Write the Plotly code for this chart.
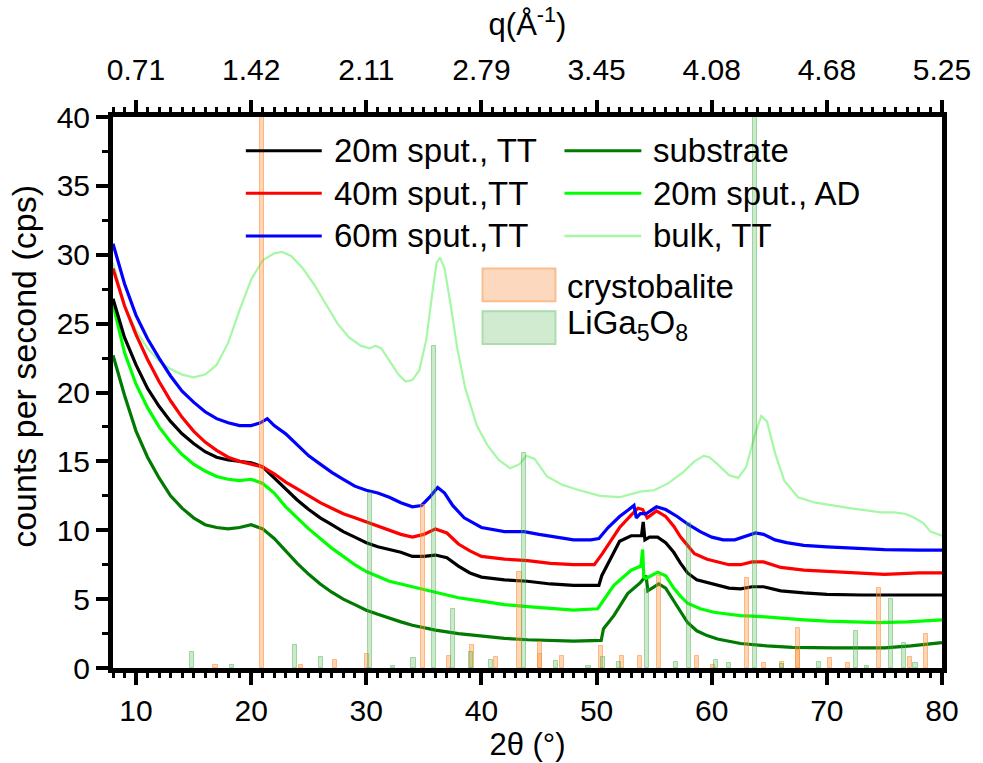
import plotly.graph_objects as go

# ---------------- measured diffraction curves (2theta in degrees, counts per second) ----------------
tt20_x = [8, 9, 10, 11, 12, 13, 14, 15, 16, 17, 18, 19, 20, 21, 22, 23, 24, 25, 26, 27, 28, 29, 30, 31, 32,
          33, 34, 35, 36, 37, 38, 39, 40, 42, 44, 46, 48, 50.2, 50.45, 51, 52, 53, 53.9, 54.05, 54.2, 54.6,
          55.3, 56, 56.7, 57.3, 57.9, 58.7, 59.6, 60.5, 61.5, 62.5, 63.5, 64.5, 66, 68, 70, 73, 76, 80]
tt20_y = [26.8, 24.0, 22.0, 20.3, 19.0, 17.9, 17.0, 16.3, 15.7, 15.3, 15.1, 15.0, 14.9, 14.6, 13.8, 13.0,
          12.2, 11.5, 10.9, 10.4, 9.9, 9.5, 9.1, 8.8, 8.6, 8.4, 8.1, 8.1, 8.2, 8.0, 7.4, 6.9, 6.6, 6.4, 6.3,
          6.1, 6.0, 6.0, 6.7, 7.6, 9.2, 9.6, 9.6, 10.6, 9.3, 9.5, 9.5, 9.1, 8.4, 7.6, 6.9, 6.4, 6.2, 6.0,
          5.8, 5.75, 5.9, 5.9, 5.6, 5.45, 5.35, 5.3, 5.3, 5.3]

tt40_x = [8, 9, 10, 11, 12, 13, 14, 15, 16, 17, 18, 19, 20, 21, 22, 23, 24, 25, 26, 27, 28, 29, 30, 31, 32,
          33, 34, 35, 36, 37, 38, 39, 40, 42, 44, 46, 48, 49.8, 50.5, 51, 52, 53, 53.6, 54.0, 54.4, 55.2,
          56, 56.7, 57.3, 57.9, 58.5, 59.6, 60.5, 61.5, 62.5, 63.5, 64.5, 66, 68, 70, 72, 75, 78, 80]
tt40_y = [29.0, 26.3, 24.2, 22.4, 20.8, 19.4, 18.2, 17.2, 16.4, 15.8, 15.3, 15.0, 14.8, 14.6, 14.1, 13.5,
          13.0, 12.5, 12.0, 11.6, 11.2, 10.9, 10.6, 10.3, 10.0, 9.7, 9.5, 9.7, 10.1, 9.8, 9.0, 8.5, 8.1,
          7.9, 7.8, 7.6, 7.5, 7.5, 8.3, 8.9, 10.2, 11.1, 11.6, 11.5, 10.9, 11.4, 11.0, 10.3, 9.5, 8.9, 8.3,
          7.9, 7.7, 7.5, 7.5, 7.7, 7.7, 7.3, 7.1, 7.0, 6.9, 6.8, 6.9, 6.9]

tt60_x = [8, 8.5, 9, 10, 11, 12, 13, 14, 15, 16, 17, 18, 19, 20, 20.8, 21.4, 22, 23, 24, 25, 26, 27, 28, 29,
          30, 31, 32, 33, 34, 34.8, 35.5, 36.2, 36.8, 37.5, 38.5, 40, 42, 43.7, 45, 46.5, 48, 49.5, 50.2, 51,
          52, 52.8, 53.25, 53.45, 53.8, 54.3, 55.2, 56, 57, 58, 59, 60, 61, 62, 63, 63.8, 64.5, 65.5, 66.5,
          68, 70, 72, 75, 78, 80]
tt60_y = [30.8, 29.3, 27.9, 25.6, 23.9, 22.5, 21.2, 20.1, 19.3, 18.6, 18.1, 17.8, 17.6, 17.6, 17.8, 18.1,
          17.6, 17.0, 16.2, 15.4, 14.8, 14.2, 13.7, 13.2, 12.9, 12.7, 12.4, 12.0, 11.7, 11.8, 12.4, 13.1,
          12.7, 11.8, 10.9, 10.2, 9.9, 9.9, 9.7, 9.5, 9.3, 9.3, 9.4, 10.2, 11.0, 11.5, 11.8, 10.9, 11.2,
          11.2, 11.7, 11.5, 11.0, 10.4, 9.9, 9.5, 9.3, 9.3, 9.6, 9.8, 9.7, 9.3, 9.1, 8.9, 8.8, 8.7, 8.6,
          8.55, 8.55]

sub_x = [8, 9, 10, 11, 12, 13, 14, 15, 16, 17, 18, 19, 20, 21, 22, 23, 24, 25, 26, 27, 28, 29, 30, 31, 32,
         33, 34, 36, 38, 40, 42, 44, 46, 48, 50.4, 50.6, 51.5, 52.7, 53.8, 54.3, 54.45, 55.4, 56, 56.7, 57.3,
         57.9, 58.7, 59.6, 60.5, 62.5, 64.8, 67, 70.6, 75, 77.3, 80]
sub_y = [22.7, 19.8, 17.2, 15.3, 13.8, 12.5, 11.6, 10.9, 10.4, 10.2, 10.1, 10.2, 10.4, 10.1, 9.4, 8.5, 7.6,
         6.8, 6.1, 5.5, 5.0, 4.6, 4.2, 3.9, 3.6, 3.35, 3.1, 2.75, 2.5, 2.3, 2.15, 2.05, 2.0, 1.95, 2.0, 2.85,
         3.8, 5.4, 6.2, 6.7, 5.6, 6.1, 5.8, 4.9, 4.1, 3.3, 2.7, 2.35, 2.1, 1.78, 1.6, 1.5, 1.46, 1.46, 1.6,
         1.85]

ad20_x = [8, 9, 10, 11, 12, 13, 14, 15, 16, 17, 18, 19, 20, 21, 22, 23, 24, 25, 26, 27, 28, 29, 30, 32, 34,
          36, 38, 40, 42, 44, 46, 48, 50.1, 51.5, 53, 53.85, 54.0, 54.1, 54.3, 55.3, 56, 56.7, 57.3, 57.9, 59,
          60.2, 61.5, 62.5, 64, 66, 68, 70, 72, 74.5, 77, 80]
ad20_y = [26.4, 22.9, 20.6, 18.9, 17.5, 16.4, 15.5, 14.8, 14.3, 13.9, 13.7, 13.6, 13.7, 13.4, 12.7, 11.7,
          10.9, 10.1, 9.4, 8.7, 8.1, 7.5, 7.0, 6.3, 5.9, 5.5, 5.1, 4.85, 4.6, 4.45, 4.3, 4.2, 4.3, 6.0, 7.1,
          7.4, 8.6, 6.6, 6.5, 6.95, 6.7, 5.8, 5.2, 4.7, 4.3, 4.05, 3.9, 3.8, 3.75, 3.6, 3.5, 3.4, 3.35, 3.3,
          3.35, 3.5]

bulk_x = [8, 9, 10, 11, 12, 13, 14, 15, 16, 17, 18, 19, 20, 21, 22, 22.7, 23.5, 24.5, 25.5, 26.5, 27.5, 28.5,
          29.5, 30.3, 30.8, 31.3, 32, 32.8, 33.4, 34, 34.6, 35.2, 35.7, 36.1, 36.4, 36.8, 37.3, 37.9, 38.6,
          39.6, 40.5, 41.5, 42.5, 43.3, 43.9, 44.6, 45.7, 47, 48.5, 50.3, 52, 53.8, 55, 56.2, 57.5, 58.5,
          59.3, 59.8, 60.5, 61.5, 62.3, 63, 63.7, 64.3, 64.8, 65.5, 66.3, 67.5, 69, 72, 74.7, 75.8, 76.8,
          77.6, 78.4, 79, 80]
bulk_y = [29.4, 26.3, 24.5, 23.2, 22.3, 21.7, 21.3, 21.1, 21.3, 22.0, 23.6, 26.0, 28.2, 29.6, 30.1, 30.2,
          29.9, 29.0, 27.8, 26.4, 25.0, 24.0, 23.4, 23.2, 23.4, 23.2, 22.3, 21.3, 20.8, 20.9, 21.6, 23.8,
          27.0, 29.4, 29.8, 29.0, 26.5, 23.2, 20.3, 17.6, 16.2, 15.1, 14.5, 14.8, 15.4, 15.2, 13.9, 13.3,
          12.9, 12.5, 12.4, 12.8, 12.9, 13.4, 14.2, 15.0, 15.4, 15.3, 14.8, 14.0, 13.8, 14.6, 16.8, 18.3,
          17.9, 15.6, 13.6, 12.4, 12.0, 11.6, 11.3, 11.3, 11.2, 10.9, 10.5, 9.9, 9.6]

# ---------------- reference stick patterns (position in 2theta, relative height in cps units) ----------------
cristo_pos = [16.9, 20.95, 24.35, 27.3, 30.05, 34.95, 37.15, 39.2, 41.3, 43.3, 45.1, 45.1, 47.0, 50.4, 52.2,
              53.8, 55.45, 58.7, 60.1, 63.05, 64.55, 66.1, 67.5, 67.5, 70.3, 71.8, 74.55, 77.25, 78.6]
cristo_h = [0.2, 100, 0.2, 0.6, 1.0, 11.8, 0.85, 1.7, 0.8, 7.0, 1.9, 1.0, 0.9, 1.6, 0.9, 0.85, 6.7, 0.85,
            0.2, 6.5, 0.35, 0.45, 2.9, 1.3, 0.7, 0.35, 5.8, 0.8, 2.45]

liga_pos = [14.84, 18.3, 23.8, 26.1, 30.35, 32.3, 34.1, 35.9, 37.5, 39.1, 40.8, 43.7, 46.5, 49.3, 50.55,
            51.95, 54.35, 56.9, 58.0, 60.35, 61.5, 63.75, 66.1, 69.3, 72.5, 73.5, 75.6, 76.7, 77.7]
liga_h = [1.15, 0.2, 1.7, 0.8, 12.7, 0.15, 0.7, 23.4, 4.3, 1.13, 0.55, 15.6, 0.5, 0.15, 0.8, 0.4, 5.7, 0.45,
          10.5, 0.55, 0.35, 100, 0.3, 0.4, 2.7, 0.15, 5.0, 1.8, 0.35]

# ---------------- axis ticks ----------------
two_theta_ticks = [10, 20, 30, 40, 50, 60, 70, 80]
q_labels = ["0.71", "1.42", "2.11", "2.79", "3.45", "4.08", "4.68", "5.25"]
cps_ticks = [0, 5, 10, 15, 20, 25, 30, 35, 40]

FONT = "Liberation Sans, Arial, sans-serif"

series = [
    ("20m sput., TT", tt20_x, tt20_y, "#000000"),
    ("40m sput.,TT", tt40_x, tt40_y, "#ff0000"),
    ("60m sput.,TT", tt60_x, tt60_y, "#0000ff"),
    ("substrate", sub_x, sub_y, "#007a00"),
    ("20m sput., AD", ad20_x, ad20_y, "#00ff00"),
    ("bulk, TT", bulk_x, bulk_y, "#a6f7a6"),
]
draw_order = [5, 3, 4, 0, 1, 2]

fig = go.Figure()
for i in draw_order:
    name, xs, ys, col = series[i]
    w = 2.2 if i == 5 else 3.2
    fig.add_trace(go.Scatter(x=xs, y=ys, mode="lines", name=name,
                             line=dict(color=col, width=w), showlegend=False))

stick_sets = [
    ("crystobalite", cristo_pos, cristo_h, "rgba(255,140,50,0.36)", "rgba(255,140,50,0.55)"),
    ("LiGa<sub>5</sub>O<sub>8</sub>", liga_pos, liga_h, "rgba(70,175,70,0.28)", "rgba(70,175,70,0.45)"),
]
for name, pos, h, fill, edge in stick_sets:
    fig.add_trace(go.Bar(x=pos, y=h, width=0.36, name=name, xaxis="x3", yaxis="y3",
                         marker=dict(color=fill, line=dict(color=edge, width=1)),
                         showlegend=False))

axis_common = dict(showline=True, linecolor="black", linewidth=5, showgrid=False, zeroline=False,
                   ticks="outside", tickcolor="black", tickwidth=4, ticklen=12,
                   tickfont=dict(family=FONT, size=30, color="black"))

fig.update_layout(
    width=983, height=763,
    margin=dict(l=113, r=40, t=117, b=90),
    paper_bgcolor="white", plot_bgcolor="white",
    barmode="overlay", bargap=0,
    showlegend=False,
    font=dict(family=FONT, color="black"),
    xaxis=dict(range=[8, 80], tickvals=two_theta_ticks, **axis_common,
               minor=dict(dtick=1, tick0=0, ticks="outside", ticklen=5, tickwidth=3, tickcolor="black"),
               title=dict(text="2θ (°)", font=dict(family=FONT, size=31), standoff=2)),
    xaxis2=dict(range=[8, 80], overlaying="x", side="top", tickvals=two_theta_ticks, ticktext=q_labels,
                ticklabelstandoff=8, **axis_common,
                minor=dict(dtick=1, tick0=0, ticks="outside", ticklen=5, tickwidth=3, tickcolor="black"),
                title=dict(text="q(Å<sup>-1</sup>)", font=dict(family=FONT, size=31), standoff=10)),
    xaxis3=dict(range=[8, 80], overlaying="x", visible=False),
    yaxis=dict(range=[0, 40], tickvals=cps_ticks, mirror=True, **axis_common,
               minor=dict(dtick=2.5, tick0=0, ticks="outside", ticklen=6, tickwidth=3, tickcolor="black")),
    yaxis3=dict(range=[0, 40], overlaying="y", visible=False),
)
# empty trace on the top axis so that it is drawn
fig.add_trace(go.Scatter(x=[8, 80], y=[None, None], xaxis="x2", yaxis="y", showlegend=False,
                         hoverinfo="skip"))

# ---------------- legend block and y title, in paper coordinates ----------------
PL, PR, PT, PB = 113, 943, 117, 673


def px(xp):
    return (xp - PL) / (PR - PL)


def py(yp):
    return (PB - yp) / (PB - PT)


fig.add_annotation(xref="paper", yref="paper", x=px(24), y=py(369), text="counts per second (cps)",
                   textangle=-90, showarrow=False, xanchor="center", yanchor="middle",
                   font=dict(family=FONT, size=34, color="black"))

line_cols = [(0, 246, 322, 151), (1, 246, 322, 194), (2, 246, 322, 237),
             (3, 565, 642, 151), (4, 565, 642, 194), (5, 565, 642, 237)]
for idx, x0, x1, yrow in line_cols:
    name, _, _, col = series[idx]
    fig.add_shape(type="line", xref="paper", yref="paper", x0=px(x0), x1=px(x1), y0=py(yrow), y1=py(yrow),
                  line=dict(color=col, width=3 if idx != 5 else 2.5))
    fig.add_annotation(xref="paper", yref="paper", x=px(x1 + 10), y=py(yrow), text=name, showarrow=False,
                       xanchor="left", yanchor="middle", font=dict(family=FONT, size=33, color="black"))

swatches = [(0, 270, 303, "rgba(252,216,190,1)", "rgba(250,190,140,1)", 288),
            (1, 313, 346, "rgba(208,235,208,1)", "rgba(172,220,172,1)", 327)]
for k, y0, y1, fill, edge, ytxt in swatches:
    fig.add_shape(type="rect", xref="paper", yref="paper", x0=px(483), x1=px(556), y0=py(y1), y1=py(y0),
                  fillcolor=fill, line=dict(color=edge, width=2))
    fig.add_annotation(xref="paper", yref="paper", x=px(566), y=py(ytxt), text=stick_sets[k][0],
                       showarrow=False, xanchor="left", yanchor="middle",
                       font=dict(family=FONT, size=33, color="black"))

fig.write_html("out.html")
